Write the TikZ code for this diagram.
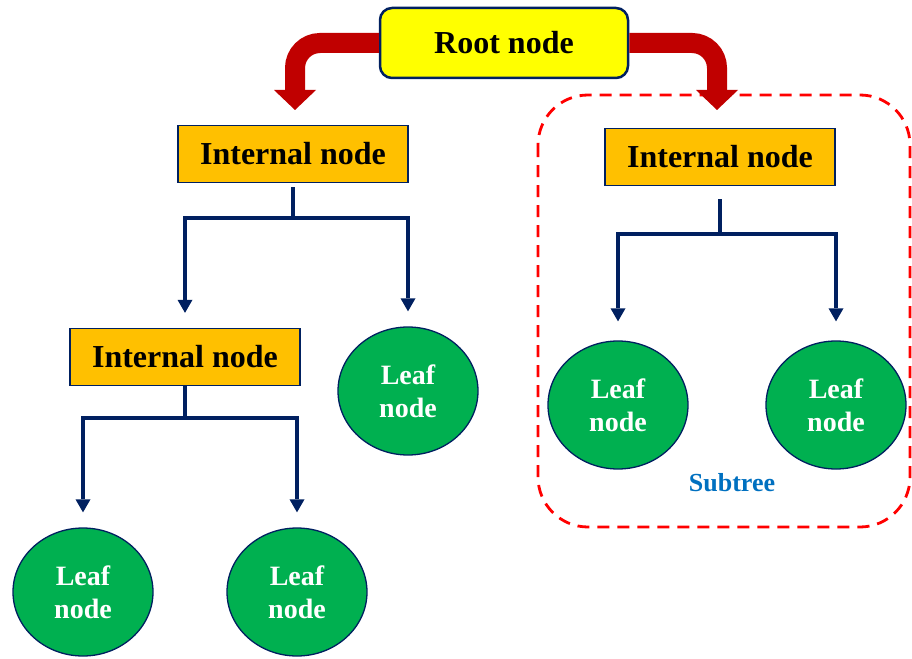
\documentclass[tikz,border=0pt]{standalone}
\usepackage{fontspec}
\setmainfont{Liberation Serif}
\usetikzlibrary{arrows.meta,shapes.geometric}
\definecolor{navy}{HTML}{002060}
\definecolor{rootfill}{HTML}{FFFF00}
\definecolor{intfill}{HTML}{FFC000}
\definecolor{leaffill}{HTML}{00B050}
\definecolor{bigred}{HTML}{C00000}
\definecolor{subred}{HTML}{FF0000}
\definecolor{subblue}{HTML}{0070C0}
\tikzset{
	rootbox/.style={draw=navy, line width=2.5pt, fill=rootfill, rounded corners=12pt,
		minimum width=248pt, minimum height=70pt, font=\fontsize{32}{38}\selectfont\bfseries},
	intbox/.style={draw=navy, line width=1.3pt, fill=intfill,
		minimum width=230pt, minimum height=57pt, font=\fontsize{32}{38}\selectfont\bfseries},
	leaf/.style={ellipse, draw=navy, line width=1.3pt, fill=leaffill, text=white, align=center,
		minimum width=140pt, minimum height=128pt, inner sep=0pt, font=\fontsize{28}{33}\selectfont\bfseries},
	link/.style={draw=navy, line width=3.5pt, -{Triangle[width=15pt,length=13pt,line width=0pt]}, shorten >=15pt},
	bigarrow/.style={draw=bigred, line width=20pt, rounded corners=25pt, -{Triangle[width=42pt,length=20pt,line width=0pt]}},
	subline/.style={draw=subred, line width=2.8pt, dash pattern=on 12pt off 8pt, rounded corners=50pt},
}
\begin{document}
\begin{tikzpicture}[x=1pt, y=-1pt]
	\useasboundingbox (0,0) rectangle (912,658);
	% subtree frame
	\draw[subline] (538,95) rectangle (910,527);
	\node[text=subblue, font=\fontsize{26}{30}\selectfont\bfseries] (sub) at (732,483) {Subtree};

	\node[rootbox] (root) at (504,43) {Root node};
	\node[intbox] (intL) at (293,154) {Internal node};
	\node[intbox] (intR) at (720,157) {Internal node};
	\node[intbox] (intB) at (185,357) {Internal node};
	\foreach \n/\x/\y in {lfM/408/391, lfA/83/592, lfB/297/592, lfC/618/405, lfD/836/405} {
		\node[leaf] (\n) at (\x,\y) {Leaf\\node};	}

	\draw[bigarrow] (root.west) -| (295,110);
	\draw[bigarrow] (root.east) -| (717,110);

	\draw[link, shorten <=4pt] (intL.south) -- ++(0,35) -| (intB.north);
	\draw[link, shorten <=4pt] (intL.south) -- ++(0,35) -| (lfM.north);
	\draw[link] (intB.south) -- ++(0,32) -| (lfA.north);
	\draw[link] (intB.south) -- ++(0,32) -| (lfB.north);
	\draw[link, shorten <=13pt, shorten >=19pt] (intR.south) -- ++(0,48) -| (lfC.north);
	\draw[link, shorten <=13pt, shorten >=19pt] (intR.south) -- ++(0,48) -| (lfD.north);
\end{tikzpicture}
\end{document}
